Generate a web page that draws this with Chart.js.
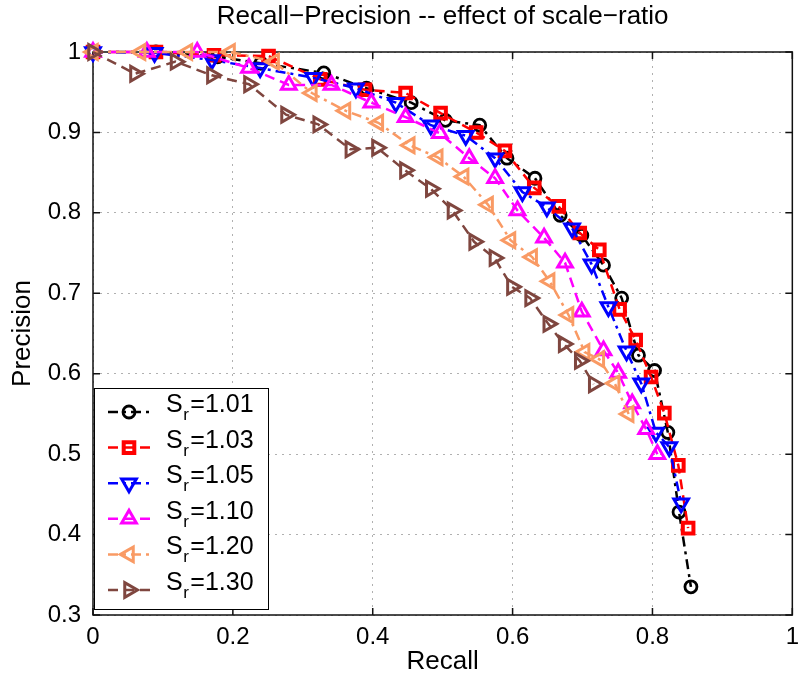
<!DOCTYPE html>
<html>
<head>
<meta charset="utf-8">
<script src="https://cdn.jsdelivr.net/npm/chart.js@4.4.1/dist/chart.umd.min.js"></script>
<style>
    html, body { margin: 0; padding: 0; background: #fff; }
    #wrap { width: 807px; height: 674px; }
</style>
</head>
<body>
<div id="wrap"><canvas id="prChart" width="807" height="674"></canvas></div>
<script>
// Sr values (legend), one recall/precision pair per curve
const scaleRatios = ['1.01', '1.03', '1.05', '1.10', '1.20', '1.30'];

const recall101 = [0, 0.09, 0.178, 0.24, 0.33, 0.391, 0.455, 0.504, 0.553, 0.592, 0.632, 0.668, 0.699, 0.730, 0.756, 0.780, 0.803, 0.822, 0.838, 0.855];
const prec101   = [1, 1, 0.994, 0.986, 0.974, 0.955, 0.937, 0.915, 0.909, 0.868, 0.843, 0.797, 0.772, 0.735, 0.694, 0.623, 0.604, 0.527, 0.428, 0.335];

const recall103 = [0, 0.09, 0.173, 0.251, 0.325, 0.389, 0.447, 0.497, 0.548, 0.589, 0.631, 0.666, 0.696, 0.724, 0.753, 0.776, 0.798, 0.817, 0.837, 0.851];
const prec103   = [1, 1, 0.996, 0.995, 0.966, 0.953, 0.949, 0.924, 0.900, 0.877, 0.831, 0.808, 0.775, 0.754, 0.680, 0.642, 0.596, 0.551, 0.486, 0.408];

const recall105 = [0, 0.088, 0.170, 0.239, 0.315, 0.376, 0.433, 0.483, 0.533, 0.575, 0.614, 0.649, 0.685, 0.713, 0.737, 0.763, 0.784, 0.805, 0.824, 0.841];
const prec105   = [1, 0.999, 0.990, 0.980, 0.968, 0.955, 0.937, 0.909, 0.896, 0.868, 0.826, 0.807, 0.781, 0.736, 0.683, 0.628, 0.588, 0.527, 0.509, 0.439];

const recall110 = [0, 0.077, 0.149, 0.223, 0.280, 0.341, 0.398, 0.447, 0.496, 0.538, 0.575, 0.607, 0.645, 0.675, 0.699, 0.730, 0.751, 0.771, 0.791, 0.807];
const prec110   = [1, 1, 1, 0.980, 0.959, 0.959, 0.937, 0.919, 0.899, 0.868, 0.843, 0.803, 0.769, 0.738, 0.677, 0.629, 0.601, 0.563, 0.531, 0.500];

const recall120 = [0, 0.068, 0.135, 0.196, 0.259, 0.313, 0.361, 0.408, 0.453, 0.493, 0.530, 0.565, 0.597, 0.628, 0.653, 0.680, 0.703, 0.724, 0.746, 0.766];
const prec120   = [1, 1, 1, 1, 0.988, 0.949, 0.927, 0.912, 0.884, 0.869, 0.845, 0.810, 0.766, 0.745, 0.715, 0.673, 0.627, 0.618, 0.588, 0.550];

const recall130 = [0, 0.060, 0.118, 0.170, 0.223, 0.276, 0.322, 0.368, 0.406, 0.446, 0.483, 0.514, 0.545, 0.574, 0.599, 0.625, 0.651, 0.673, 0.696, 0.716];
const prec130   = [1, 0.973, 0.988, 0.971, 0.960, 0.922, 0.910, 0.879, 0.881, 0.853, 0.830, 0.803, 0.764, 0.744, 0.708, 0.694, 0.662, 0.637, 0.616, 0.587];

const xTicks = [0, 0.2, 0.4, 0.6, 0.8, 1];
const yTicks = [0.3, 0.4, 0.5, 0.6, 0.7, 0.8, 0.9, 1];

const FONT = '"Liberation Sans", Arial, Helvetica, sans-serif';
const DASHED = [10, 6];
const DASHDOT = [10, 5, 3, 5];

function toPoints(rs, ps) {
    return rs.map((r, i) => ({ x: r, y: ps[i] }));
}

function makeSeries(idx, rs, ps, color, dash, style, radius, rotation, bw) {
    return {
        label: 'S_r=' + scaleRatios[idx],
        data: toPoints(rs, ps),
        borderColor: color,
        borderWidth: 2.5,
        borderDash: dash,
        pointStyle: style,
        pointRadius: radius,
        pointRotation: rotation,
        pointBorderColor: color,
        pointBackgroundColor: 'rgba(0,0,0,0)',
        pointBorderWidth: bw,
        tension: 0,
        clip: false,
        order: 5 - idx
    };
}

const datasets = [
    makeSeries(0, recall101, prec101, '#000000', DASHDOT, 'circle', 6, 0, 2.8),
    makeSeries(1, recall103, prec103, '#ff0000', DASHED, 'rect', 7.5, 0, 4),
    makeSeries(2, recall105, prec105, '#0000ff', DASHDOT, 'triangle', 8.5, 180, 3),
    makeSeries(3, recall110, prec110, '#ff00ff', DASHED, 'triangle', 8.5, 0, 3),
    makeSeries(4, recall120, prec120, '#f99a64', DASHDOT, 'triangle', 8.5, 270, 3),
    makeSeries(5, recall130, prec130, '#7f463f', DASHED, 'triangle', 8.5, 90, 3)
];

function drawMarker(ctx, style, r, rot, x, y) {
    ctx.beginPath();
    if (style === 'circle') {
        ctx.arc(x, y, r, 0, Math.PI * 2);
    } else if (style === 'rect') {
        const s = r * Math.SQRT1_2;
        ctx.rect(x - s, y - s, 2 * s, 2 * s);
    } else {
        let rad = rot * Math.PI / 180;
        ctx.moveTo(x + Math.sin(rad) * r, y - Math.cos(rad) * r);
        rad += Math.PI * 2 / 3;
        ctx.lineTo(x + Math.sin(rad) * r, y - Math.cos(rad) * r);
        rad += Math.PI * 2 / 3;
        ctx.lineTo(x + Math.sin(rad) * r, y - Math.cos(rad) * r);
        ctx.closePath();
    }
    ctx.stroke();
}

// matlab style box, inner ticks and the legend with subscripts
const frameAndLegend = {
    id: 'frameAndLegend',
    beforeDatasetsDraw(chart) {
        const { ctx, chartArea: a, scales } = chart;
        ctx.save();
        ctx.strokeStyle = '#111';
        ctx.lineWidth = 1.5;
        ctx.strokeRect(a.left, a.top, a.right - a.left, a.bottom - a.top);
        ctx.beginPath();
        xTicks.forEach(v => {
            const px = scales.x.getPixelForValue(v);
            ctx.moveTo(px, a.bottom); ctx.lineTo(px, a.bottom - 7);
            ctx.moveTo(px, a.top); ctx.lineTo(px, a.top + 7);
        });
        yTicks.forEach(v => {
            const py = scales.y.getPixelForValue(v);
            ctx.moveTo(a.left, py); ctx.lineTo(a.left + 7, py);
            ctx.moveTo(a.right, py); ctx.lineTo(a.right - 7, py);
        });
        ctx.stroke();
        ctx.restore();
    },
    afterDatasetsDraw(chart) {
        const { ctx, chartArea: a } = chart;
        const bx = a.left + 1, bw = 174, bh = 221;
        const by = a.bottom - 6 - bh;
        const rowY0 = by + 24, rowGap = 35.6;
        ctx.save();
        ctx.fillStyle = '#fff';
        ctx.fillRect(bx, by, bw, bh);
        ctx.strokeStyle = '#000';
        ctx.lineWidth = 1;
        ctx.strokeRect(bx + 0.5, by + 0.5, bw, bh);

        chart.data.datasets.forEach((ds, i) => {
            const y = rowY0 + i * rowGap;
            ctx.strokeStyle = ds.borderColor;
            ctx.lineWidth = ds.borderWidth;
            ctx.setLineDash(ds.borderDash);
            ctx.beginPath();
            ctx.moveTo(bx + 14, y);
            ctx.lineTo(bx + 56, y);
            ctx.stroke();
            ctx.setLineDash([]);
            ctx.lineWidth = ds.pointBorderWidth;
            drawMarker(ctx, ds.pointStyle, ds.pointRadius, ds.pointRotation, bx + 35, y);

            ctx.fillStyle = '#000';
            ctx.textBaseline = 'alphabetic';
            ctx.textAlign = 'left';
            let tx = bx + 72;
            ctx.font = '25px ' + FONT;
            ctx.fillText('S', tx, y);
            tx += ctx.measureText('S').width + 0.5;
            ctx.font = '17px ' + FONT;
            ctx.fillText('r', tx, y + 8);
            tx += ctx.measureText('r').width + 1.5;
            ctx.font = '25px ' + FONT;
            ctx.fillText('=' + scaleRatios[i], tx, y);
        });
        ctx.restore();
    }
};

Chart.defaults.font.family = FONT;
Chart.defaults.color = '#000';

new Chart(document.getElementById('prChart').getContext('2d'), {
    type: 'line',
    data: { datasets: datasets },
    options: {
        responsive: false,
        animation: false,
        layout: { padding: { left: 0, right: 10, top: 0, bottom: 0 } },
        plugins: {
            legend: { display: false },
            tooltip: { enabled: false },
            title: {
                display: true,
                fullSize: false,
                text: 'Recall\u2212Precision -- effect of scale\u2212ratio',
                font: { size: 26, weight: 'normal', lineHeight: 1 },
                color: '#000',
                padding: { top: 4, bottom: 22 }
            }
        },
        scales: {
            x: {
                type: 'linear',
                min: 0,
                max: 1,
                afterBuildTicks: s => { s.ticks = xTicks.map(v => ({ value: v })); },
                afterFit: s => { s.height = 59; },
                ticks: {
                    padding: 8,
                    font: { size: 24 },
                    callback: v => String(+v.toFixed(1))
                },
                grid: { color: '#b0b0b0', lineWidth: 1, drawTicks: false },
                border: { display: false, dash: [2, 5] },
                title: {
                    display: true,
                    text: 'Recall',
                    font: { size: 26, lineHeight: 1 },
                    padding: { top: 0, bottom: -1 }
                }
            },
            y: {
                type: 'linear',
                min: 0.3,
                max: 1,
                afterBuildTicks: s => { s.ticks = yTicks.map(v => ({ value: v })); },
                afterFit: s => { s.width = 93; },
                ticks: {
                    padding: 12,
                    font: { size: 24 },
                    callback: v => String(+v.toFixed(1))
                },
                grid: { color: '#b0b0b0', lineWidth: 1, drawTicks: false },
                border: { display: false, dash: [2, 5] },
                title: {
                    display: true,
                    text: 'Precision',
                    font: { size: 26, lineHeight: 1 },
                    padding: { top: 10, bottom: 0 }
                }
            }
        }
    },
    plugins: [frameAndLegend]
});
</script>
</body>
</html>
